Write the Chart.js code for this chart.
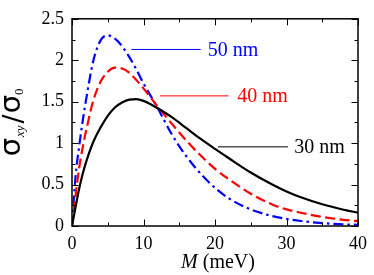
<!DOCTYPE html>
<html lang="en">
<head>
    <meta charset="UTF-8">
    <title>Hall conductivity vs M</title>
    <script src="https://cdn.jsdelivr.net/npm/chart.js"></script>
    <style>
        html, body { margin: 0; padding: 0; background: #fff; }
        #chart-container { width: 374px; height: 275px; }
    </style>
</head>
<body>
    <div id="chart-container">
        <canvas id="myChart"></canvas>
    </div>
<script>
// M values (meV) shared by every curve
const mValues = [0, 0.5, 1, 1.5, 2, 3, 4, 5, 6, 7, 8, 9, 10, 11, 12, 14, 16, 18, 20, 22, 25, 28, 30, 32, 35, 38, 40]

// sigma_xy / sigma_0
const curve30nm = [0, 0.23, 0.45, 0.63, 0.78, 1.02, 1.19, 1.33, 1.43, 1.49, 1.525, 1.53, 1.51, 1.47, 1.42, 1.31, 1.18, 1.05, 0.93, 0.814, 0.645, 0.5, 0.416, 0.346, 0.262, 0.196, 0.16]
const curve40nm = [0, 0.37, 0.7, 0.95, 1.16, 1.52, 1.74, 1.86, 1.91, 1.9, 1.85, 1.76, 1.66, 1.55, 1.44, 1.23, 1.03, 0.85, 0.69, 0.56, 0.39, 0.26, 0.2, 0.16, 0.11, 0.075, 0.058]
const curve50nm = [0, 0.6, 0.96, 1.27, 1.54, 2.0, 2.24, 2.3, 2.26, 2.17, 2.04, 1.89, 1.72, 1.57, 1.42, 1.1, 0.84, 0.63, 0.46, 0.33, 0.2, 0.12, 0.085, 0.06, 0.035, 0.02, 0.015]

// labels with their leader lines (in data units)
const labelNames = ["50 nm", "40 nm", "30 nm"]
const labelColors = ["#0000ff", "#ff0000", "#000000"]
const labelLineFrom = [8.3, 12.3, 20.4]
const labelLineTo = [18.0, 21.9, 30.2]
const labelLevel = [2.13, 1.57, 0.955]
const labelTextAt = [19.0, 23.1, 31.1]

const xTicks = [0, 10, 20, 30, 40]
const yTicks = [0, 0.5, 1, 1.5, 2, 2.5]

function toPoints(ys) {
    return mValues.map((m, i) => ({ x: m, y: ys[i] }))
}

const curveStyle = { pointRadius: 0, borderWidth: 2.2, fill: false, cubicInterpolationMode: "monotone" }

const datasets = [
    { ...curveStyle, data: toPoints(curve30nm), borderColor: "#000000" },
    { ...curveStyle, data: toPoints(curve40nm), borderColor: "#ff0000", borderDash: [10, 4.5] },
    { ...curveStyle, data: toPoints(curve50nm), borderColor: "#0000ff", borderDash: [10, 4, 2.5, 4] }
]

// leader lines next to the labels
labelNames.forEach((name, i) => {
    datasets.push({
        data: [{ x: labelLineFrom[i], y: labelLevel[i] }, { x: labelLineTo[i], y: labelLevel[i] }],
        borderColor: labelColors[i], borderWidth: 1, pointRadius: 0, fill: false
    })
})

// Frame, inward ticks on all sides, labels and axis titles
const decorations = {
    id: "decorations",
    afterDraw(chart) {
        const ctx = chart.ctx
        const xs = chart.scales.x
        const ys = chart.scales.y
        const a = chart.chartArea
        ctx.save()
        ctx.strokeStyle = "#000"
        ctx.lineWidth = 1.5
        ctx.strokeRect(a.left, a.top, a.right - a.left, a.bottom - a.top)

        ctx.lineWidth = 1
        for (let m = 0; m <= 40; m += 5) {
            const px = Math.round(xs.getPixelForValue(m)) + 0.5
            const len = m % 10 === 0 ? 6.5 : 3.5
            ctx.beginPath()
            ctx.moveTo(px, a.bottom); ctx.lineTo(px, a.bottom - len)
            ctx.moveTo(px, a.top); ctx.lineTo(px, a.top + len)
            ctx.stroke()
        }
        for (let v = 0; v <= 2.5; v += 0.25) {
            const py = Math.round(ys.getPixelForValue(v)) + 0.5
            const len = Math.abs(v * 2 - Math.round(v * 2)) < 1e-6 ? 6.5 : 3.5
            ctx.beginPath()
            ctx.moveTo(a.left, py); ctx.lineTo(a.left + len, py)
            ctx.moveTo(a.right, py); ctx.lineTo(a.right - len, py)
            ctx.stroke()
        }

        // curve labels
        ctx.font = "20px 'Liberation Serif'"
        ctx.textBaseline = "middle"
        ctx.textAlign = "left"
        labelNames.forEach((name, i) => {
            ctx.fillStyle = labelColors[i]
            ctx.fillText(name, xs.getPixelForValue(labelTextAt[i]), ys.getPixelForValue(labelLevel[i]) + 1)
        })

        // x axis title: M (meV)
        ctx.fillStyle = "#000"
        ctx.textBaseline = "alphabetic"
        const italic = "italic 20px 'Liberation Serif'"
        const upright = "20px 'Liberation Serif'"
        ctx.font = italic
        const wM = ctx.measureText("M").width
        ctx.font = upright
        const wRest = ctx.measureText(" (meV)").width
        const startX = (a.left + a.right) / 2 + 3 - (wM + wRest) / 2
        ctx.font = italic
        ctx.fillText("M", startX, 268)
        ctx.font = upright
        ctx.fillText(" (meV)", startX + wM, 268)

        // y axis title: sigma_xy / sigma_0, rotated
        ctx.translate(20, (a.top + a.bottom) / 2)
        ctx.rotate(-Math.PI / 2)
        const sig = "29px 'DejaVu Sans'"
        const sub = "italic 13px 'Liberation Serif'"
        const slash = "27px 'DejaVu Sans'"
        const parts = [
            { t: "\u03c3", f: sig, dy: 0, gap: 1 },
            { t: "xy", f: sub, dy: 4, gap: 2 },
            { t: "/", f: slash, dy: 2, gap: 1 },
            { t: "\u03c3", f: sig, dy: 0, gap: 0 },
            { t: "0", f: "13px 'Liberation Serif'", dy: 3, gap: 0 }
        ]
        let total = 0
        parts.forEach(p => { ctx.font = p.f; p.w = ctx.measureText(p.t).width; total += p.w + p.gap })
        let cx = -total / 2
        parts.forEach(p => {
            ctx.font = p.f
            ctx.fillText(p.t, cx, p.dy)
            cx += p.w + p.gap
        })
        ctx.restore()
    }
}

const tickFont = { family: "'Liberation Serif'", size: 18 }

new Chart(document.getElementById("myChart"), {
    type: "line",
    data: { datasets: datasets },
    options: {
        responsive: true,
        maintainAspectRatio: false,
        animation: false,
        layout: { padding: { left: 0, right: 12, top: 9.5, bottom: 0 } },
        plugins: { legend: { display: false }, tooltip: { enabled: false } },
        scales: {
            x: {
                type: "linear", min: 0, max: 40,
                afterFit(s) { s.height = 49 },
                afterBuildTicks(s) { s.ticks = xTicks.map(v => ({ value: v })) },
                grid: { display: false, drawTicks: false },
                border: { display: false },
                ticks: { color: "#000", font: tickFont, padding: 7, maxRotation: 0, callback: v => String(v) }
            },
            y: {
                type: "linear", min: 0, max: 2.5,
                afterFit(s) { s.width = 72 },
                afterBuildTicks(s) { s.ticks = yTicks.map(v => ({ value: v })) },
                grid: { display: false, drawTicks: false },
                border: { display: false },
                ticks: { color: "#000", font: tickFont, padding: 8, callback: v => String(v) }
            }
        }
    },
    plugins: [decorations]
})
</script>
</body>
</html>
